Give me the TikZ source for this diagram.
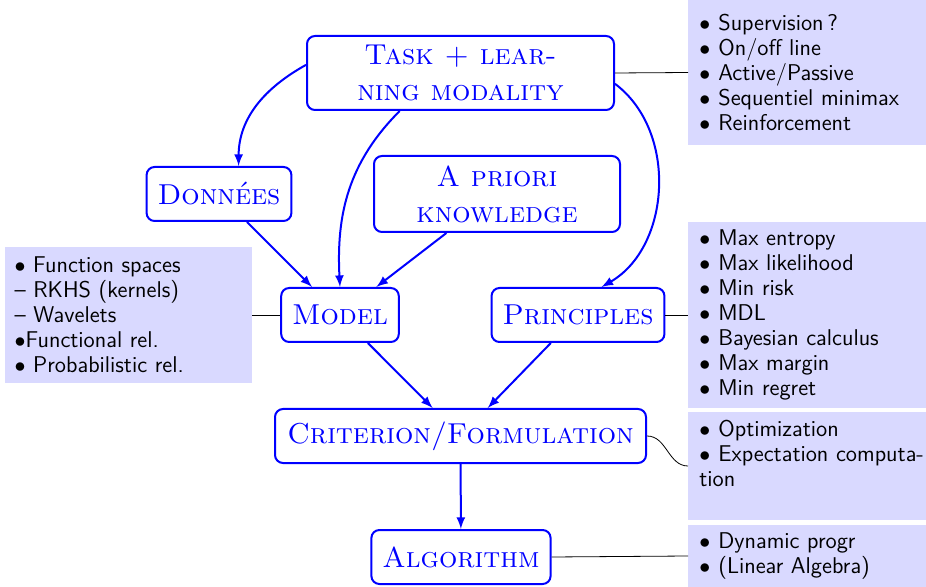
\documentclass[tikz,border=0pt]{standalone}
\usepackage{amssymb}
\usepackage{amsmath}
\usepackage{tikz}
\usetikzlibrary{arrows}

\newcommand{\bul}{$\bullet$\hspace{4pt}}

\begin{document}
\begin{tikzpicture}[x=0.5pt, y=-0.5pt, >=latex]
      \tikzstyle{block} = [draw=blue, line width=1pt, rounded corners=4pt, text=blue, font=\Large\scshape, align=center, inner xsep=5.5pt, minimum height=27pt]
      \tikzstyle{listbox} = [fill=blue!15, font=\sffamily\fontsize{11.4}{12.5}\selectfont, align=left, inner xsep=5.5pt, text width=108pt]
      \useasboundingbox (0,0) rectangle (926,587);
      \begin{scope}
	\path[->, blue, line width=1pt]
	node[block, minimum width=153.5pt, minimum height=37pt] (task) at (460.5,73) {Task + lear-\\ning modality}
	node[block, minimum width=72pt] (data) at (219,194) {Donn\'ees}
	node[block, minimum width=123pt, minimum height=38pt] (prior) at (497,194) {A priori\\knowledge}
	node[block, minimum width=58pt] (model) at (340,315) {Model}
	node[block, minimum width=82pt] (princ) at (578,315) {Principles}
	node[block, minimum width=185.5pt] (crit) at (460.5,436) {Criterion/Formulation}
	node[block, minimum width=89.5pt] (algo) at (461,557) {Algorithm}
	(task.177) edge[out=209, in=90] (data.55)
	(task.212) edge[out=225, in=93] (model.north)
	(task.-4) edge[out=-37, in=30] (princ.50)
	(data) edge (model)
	(prior) edge (model)
	(model) edge (crit)
	(princ) edge (crit)
	(crit) edge (algo)
	;
      \end{scope}
      \begin{scope}
	\path[-]
	node[listbox, anchor=west, minimum height=72.5pt] (b1) at (688,72.5)
	  {\bul Supervision\,?\\\bul On/off line\\\bul Active/Passive\\\bul Sequentiel minimax\\\bul Reinforcement}
	node[listbox, anchor=west, minimum height=93pt] (b2) at (688,315)
	  {\bul Max entropy\\\bul Max likelihood\\\bul Min risk\\\bul MDL\\\bul Bayesian calculus\\\bul Max margin\\\bul Min regret}
	node[listbox, anchor=west, minimum height=54pt] (b3) at (688,466)
	  {\bul Optimization\\\mbox{\bul Expectation computa-}\\tion\\\mbox{}}
	node[listbox, anchor=west, minimum height=31pt] (b4) at (688,556)
	  {\bul Dynamic progr\\\bul (Linear Algebra)}
	node[listbox, anchor=east, inner xsep=5pt, text width=113.5pt, minimum height=68pt] (b5) at (252,315)
	  {$\bullet$ Function spaces\\-- RKHS (kernels)\\-- Wavelets\\$\bullet$Functional rel.\\$\bullet$ Probabilistic rel.}
	(task.east) edge (b1.west)
	(princ.east) edge (b2.west)
	(crit.east) edge[out=0, in=180] (b3.west)
	(algo.east) edge (b4.west)
	(model.west) edge (b5.east)
	;
      \end{scope}
\end{tikzpicture}
\end{document}
